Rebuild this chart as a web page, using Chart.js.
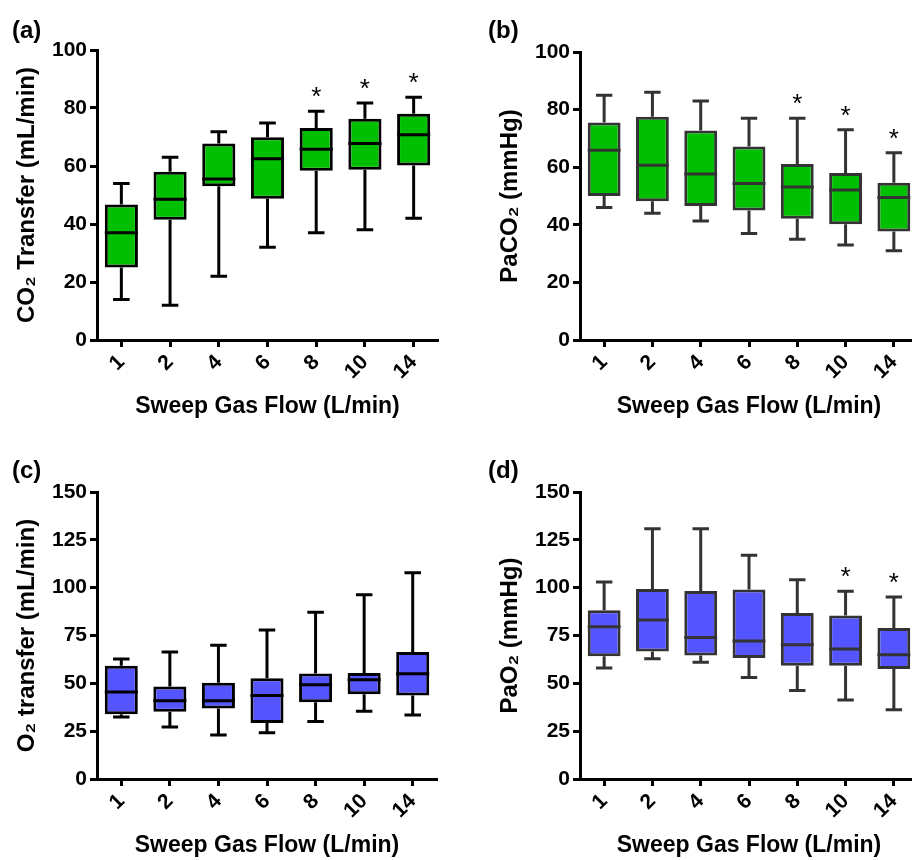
<!DOCTYPE html>
<html>
<head>
<meta charset="utf-8">
<script src="https://cdn.jsdelivr.net/npm/chart.js@4.4.1/dist/chart.umd.min.js"></script>
<style>
  html, body { margin: 0; padding: 0; background: #fff; overflow: hidden; width: 912px; height: 860px; }
  .panel { position: absolute; }
</style>
</head>
<body>
<div class="panel" style="left:0;top:0"><canvas id="chartA" width="460" height="430"></canvas></div>
<div class="panel" style="left:483px;top:0"><canvas id="chartB" width="460" height="430"></canvas></div>
<div class="panel" style="left:0;top:440px"><canvas id="chartC" width="460" height="420"></canvas></div>
<div class="panel" style="left:483px;top:440px"><canvas id="chartD" width="460" height="420"></canvas></div>
<script>
// Sweep gas flow categories (L/min)
const flowRates = ["1", "2", "4", "6", "8", "10", "14"];

// (a) CO2 transfer (mL/min)
const co2Min = [14, 12, 22, 32, 37, 38, 42];
const co2Q1 = [25, 41.5, 53, 48.7, 58.4, 58.7, 60.2];
const co2Median = [37, 48.5, 55.5, 62.5, 65.8, 67.8, 70.8];
const co2Q3 = [46.7, 58, 67.8, 69.9, 73.1, 76.3, 78];
const co2Max = [54, 63, 71.8, 74.8, 78.9, 81.7, 83.7];
const co2Sig = [false, false, false, false, true, true, true];

// (b) PaCO2 (mmHg)
const paco2Min = [46, 44, 41.3, 37, 35, 33, 31];
const paco2Q1 = [50, 48.2, 46.5, 45, 42.1, 40.2, 37.7];
const paco2Median = [65.9, 60.7, 57.6, 54.3, 53.1, 52.1, 49.5];
const paco2Q3 = [75.5, 77.5, 72.7, 67.2, 61.1, 58, 54.6];
const paco2Max = [85, 86, 83, 77, 77, 73, 65];
const paco2Sig = [false, false, false, false, true, true, true];

// (c) O2 transfer (mL/min)
const o2Min = [32.4, 27.2, 23, 24.2, 30.1, 35.4, 33.4];
const o2Q1 = [33.8, 35.2, 36.9, 29.3, 40.1, 44.3, 43.7];
const o2Median = [45.5, 40.9, 40.9, 43.6, 49.3, 51.9, 55];
const o2Q3 = [59.2, 48.3, 50.3, 52.6, 55.1, 55.4, 66.4];
const o2Max = [62.7, 66.4, 69.9, 77.9, 87.1, 96.3, 107.8];
const o2Sig = [false, false, false, false, false, false, false];

// (d) PaO2 (mmHg)
const pao2Min = [58, 62.9, 61, 53, 46.2, 41.3, 36.2];
const pao2Q1 = [64.1, 66.6, 64.5, 63.2, 59.2, 59.2, 57.5];
const pao2Median = [79.6, 83.1, 74, 72.1, 70.2, 67.9, 65];
const pao2Q3 = [88.2, 99.3, 98.3, 99.1, 86.8, 85.5, 78.9];
const pao2Max = [103, 130.8, 130.8, 117, 104.2, 98.1, 95.1];
const pao2Sig = [false, false, false, false, false, true, true];

const green = "#00bf00";
const blue = "#5555ff";

Chart.defaults.font.family = '"Liberation Sans", Arial, Helvetica, sans-serif';
Chart.defaults.color = "#000";

// whiskers, medians and significance stars drawn on the library's scales
function boxWhiskers(stats, edge, sig) {
  return {
    id: "boxWhiskers",
    afterDatasetsDraw(chart) {
      const { ctx } = chart;
      const y = chart.scales.y;
      const meta = chart.getDatasetMeta(0);
      ctx.save();
      ctx.strokeStyle = edge;
      ctx.lineWidth = 3;
      ctx.lineCap = "butt";
      meta.data.forEach((bar, i) => {
        const { x, width } = bar.getProps(["x", "width"], true);
        const cap = width / 4;
        const yMin = y.getPixelForValue(stats.min[i]);
        const yQ1 = y.getPixelForValue(stats.q1[i]);
        const yMed = y.getPixelForValue(stats.median[i]);
        const yQ3 = y.getPixelForValue(stats.q3[i]);
        const yMax = y.getPixelForValue(stats.max[i]);
        ctx.beginPath();
        ctx.moveTo(x, yQ3); ctx.lineTo(x, yMax);
        ctx.moveTo(x - cap, yMax); ctx.lineTo(x + cap, yMax);
        ctx.moveTo(x, yQ1); ctx.lineTo(x, yMin);
        ctx.moveTo(x - cap, yMin); ctx.lineTo(x + cap, yMin);
        ctx.moveTo(x - width / 2, yMed); ctx.lineTo(x + width / 2, yMed);
        ctx.stroke();
        if (sig[i]) {
          ctx.fillStyle = "#000";
          ctx.font = '26px "Liberation Sans", Arial, sans-serif';
          ctx.textAlign = "center";
          ctx.textBaseline = "alphabetic";
          ctx.fillText("*", x, yMax - 6);
        }
      });
      ctx.restore();
    }
  };
}

function panelLabel(text, x, y) {
  return {
    id: "panelLabel",
    afterDraw(chart) {
      const { ctx } = chart;
      ctx.save();
      ctx.fillStyle = "#000";
      ctx.font = 'bold 24px "Liberation Sans", Arial, sans-serif';
      ctx.textAlign = "left";
      ctx.textBaseline = "middle";
      ctx.fillText(text, x, y);
      ctx.restore();
    }
  };
}

function makePanel(id, cfg) {
  const axisGrid = { display: true, drawOnChartArea: false, drawTicks: true, tickLength: 7, tickWidth: 3, tickColor: "#000" };
  const axisBorder = { display: true, width: 3, color: "#000" };
  return new Chart(document.getElementById(id), {
    type: "bar",
    data: {
      labels: flowRates,
      datasets: [{
        data: cfg.q1.map((v, i) => [v, cfg.q3[i]]),
        backgroundColor: cfg.fill,
        borderColor: cfg.edge,
        borderWidth: 3,
        borderSkipped: false,
        barPercentage: 0.68,
        categoryPercentage: 1
      }]
    },
    options: {
      responsive: false,
      animation: false,
      layout: { padding: { top: cfg.top, right: cfg.right, left: 0, bottom: 0 } },
      plugins: { legend: { display: false }, tooltip: { enabled: false } },
      scales: {
        x: {
          grid: { ...axisGrid, offset: false },
          border: axisBorder,
          ticks: { minRotation: 45, maxRotation: 45, color: "#000", font: { size: 21, weight: "bold" } },
          title: {
            display: true, text: "Sweep Gas Flow (L/min)", color: "#000",
            font: { size: 23, weight: "bold", lineHeight: 1 },
            padding: { top: 0, bottom: cfg.xTitlePad }
          },
          afterFit(scale) { scale.height = cfg.xHeight; }
        },
        y: {
          min: 0, max: cfg.yMax,
          grid: axisGrid,
          border: axisBorder,
          ticks: { stepSize: cfg.step, padding: 3, color: "#000", font: { size: 21, weight: "bold" } },
          title: {
            display: true, text: cfg.yTitle, color: "#000",
            font: { size: 24, weight: "bold", lineHeight: 1 },
            padding: { top: 15, bottom: 0 }
          },
          afterFit(scale) { scale.width = 97; }
        }
      }
    },
    plugins: [
      boxWhiskers({ min: cfg.min, q1: cfg.q1, median: cfg.median, q3: cfg.q3, max: cfg.max }, cfg.edge, cfg.sig),
      panelLabel(cfg.label, cfg.labelX, 31)
    ]
  });
}

makePanel("chartA", {
  label: "(a)", labelX: 12, yTitle: "CO₂ Transfer (mL/min)", yMax: 100, step: 20,
  min: co2Min, q1: co2Q1, median: co2Median, q3: co2Q3, max: co2Max, sig: co2Sig,
  fill: green, edge: "#000", top: 50, right: 22, xHeight: 90, xTitlePad: 11.5
});
makePanel("chartB", {
  label: "(b)", labelX: 5, yTitle: "PaCO₂ (mmHg)", yMax: 100, step: 20,
  min: paco2Min, q1: paco2Q1, median: paco2Median, q3: paco2Q3, max: paco2Max, sig: paco2Sig,
  fill: green, edge: "#333", top: 52, right: 25, xHeight: 90, xTitlePad: 11.5
});
makePanel("chartC", {
  label: "(c)", labelX: 12, yTitle: "O₂ transfer (mL/min)", yMax: 150, step: 25,
  min: o2Min, q1: o2Q1, median: o2Median, q3: o2Q3, max: o2Max, sig: o2Sig,
  fill: blue, edge: "#000", top: 52, right: 23, xHeight: 81, xTitlePad: 2.5
});
makePanel("chartD", {
  label: "(d)", labelX: 5, yTitle: "PaO₂ (mmHg)", yMax: 150, step: 25,
  min: pao2Min, q1: pao2Q1, median: pao2Median, q3: pao2Q3, max: pao2Max, sig: pao2Sig,
  fill: blue, edge: "#333", top: 52, right: 25, xHeight: 81, xTitlePad: 2.5
});
</script>
</body>
</html>
